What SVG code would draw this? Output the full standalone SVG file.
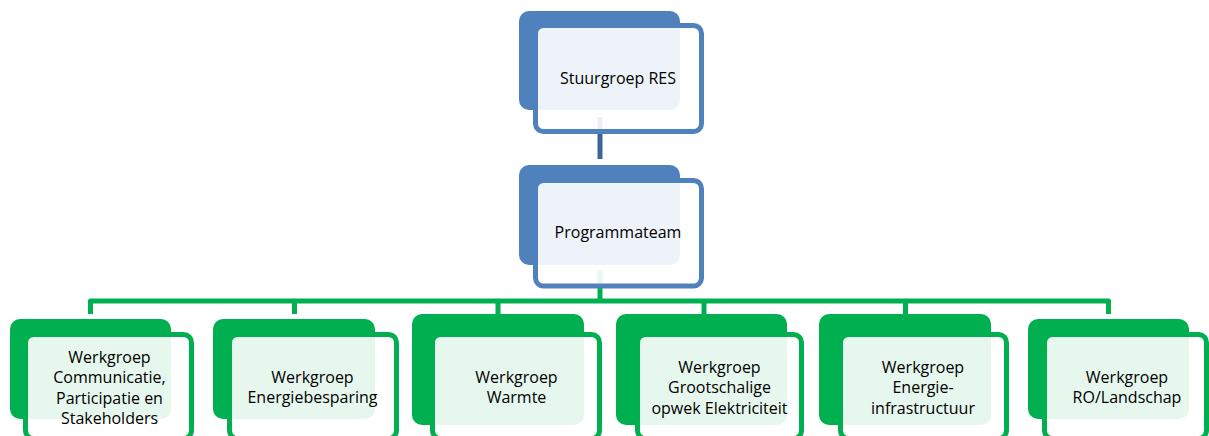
<svg xmlns="http://www.w3.org/2000/svg" width="1209" height="436" viewBox="0 0 1209 436">
<style>
.bb{fill:#4F81BD}
.fb{fill:#fff;fill-opacity:0.9;stroke:#4F81BD;stroke-width:5}
.bg{fill:#00B050}
.fg{fill:#fff;fill-opacity:0.9;stroke:#00B050;stroke-width:5}
text{font-family:"Open Sans","Noto Sans","Liberation Sans",sans-serif;font-size:16px;fill:#000;text-anchor:middle}
</style>
<rect width="1209" height="436" fill="#fff"/>
<g id="connectors" fill="none" stroke-width="5">
<line x1="600" y1="117" x2="600" y2="159" stroke="#3C6496"/>
<line x1="600" y1="271" x2="600" y2="301" stroke="#00B050"/>
<path d="M90.5,314 V301 H1108.5 V314 M294.5,301 V314 M498,301 V314 M704,301 V314 M905.5,301 V314" stroke="#00B050" stroke-linejoin="round"/>
</g>
<g id="stuurgroep">
<rect class="bb" x="519" y="11" width="161" height="99" rx="10"/>
<rect class="fb" x="535.5" y="25.5" width="166" height="106" rx="8"/>
<text x="618" y="84">Stuurgroep RES</text>
</g>
<g id="programmateam">
<rect class="bb" x="519" y="165" width="161" height="100" rx="10"/>
<rect class="fb" x="535.5" y="180.5" width="166" height="105.5" rx="8"/>
<text x="618" y="238">Programmateam</text>
</g>
<g id="wg-communicatie">
<rect class="bg" x="10" y="319" width="161" height="100" rx="10"/>
<rect class="fg" x="25.5" y="334.5" width="166" height="104" rx="8"/>
<text x="109.5" y="362.5">Werkgroep</text>
<text x="109.5" y="383">Communicatie,</text>
<text x="109.5" y="403.5">Participatie en</text>
<text x="109.5" y="424">Stakeholders</text>
</g>
<g id="wg-energiebesparing">
<rect class="bg" x="213" y="319" width="162" height="100" rx="10"/>
<rect class="fg" x="229.5" y="334.5" width="167" height="104" rx="8"/>
<text x="312.5" y="382.5">Werkgroep</text>
<text x="312.5" y="403">Energiebesparing</text>
</g>
<g id="wg-warmte">
<rect class="bg" x="412" y="314" width="172" height="111" rx="10"/>
<rect class="fg" x="432.5" y="334.5" width="167" height="104" rx="8"/>
<text x="516.5" y="383">Werkgroep</text>
<text x="516.5" y="403">Warmte</text>
</g>
<g id="wg-grootschalig">
<rect class="bg" x="616" y="314" width="171" height="111" rx="10"/>
<rect class="fg" x="637.5" y="334.5" width="164" height="104" rx="8"/>
<text x="719.5" y="372.5">Werkgroep</text>
<text x="719.5" y="393">Grootschalige</text>
<text x="719.5" y="413.5">opwek Elektriciteit</text>
</g>
<g id="wg-infrastructuur">
<rect class="bg" x="819" y="314" width="172" height="111" rx="10"/>
<rect class="fg" x="840.5" y="334.5" width="166" height="104" rx="8"/>
<text x="923" y="372.5">Werkgroep</text>
<text x="923" y="393">Energie-</text>
<text x="923" y="413.5">infrastructuur</text>
</g>
<g id="wg-landschap">
<rect class="bg" x="1028" y="319" width="161" height="100" rx="10"/>
<rect class="fg" x="1044.5" y="334.5" width="162" height="104" rx="8"/>
<text x="1127" y="383">Werkgroep</text>
<text x="1127" y="403">RO/Landschap</text>
</g>
</svg>
